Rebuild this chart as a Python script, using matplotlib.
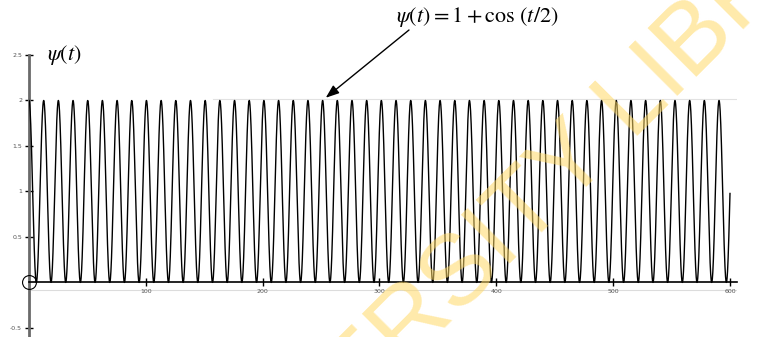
import numpy as np
import matplotlib
matplotlib.use("Agg")
import matplotlib.pyplot as plt
from matplotlib.lines import Line2D

# --- data (function stated on the chart: psi(t) = 1 + cos(t/2)) ---
t_range = [0, 600]
psi_offset = 1.0
psi_amplitude = 1.0
psi_frequency = 0.5
x_ticks = [100, 200, 300, 400, 500, 600]
x_tick_labels = ["100", "200", "300", "400", "500", "600"]
y_ticks = [-0.5, 0.5, 1, 1.5, 2, 2.5]
y_tick_labels = ["-0.5", "0.5", "1", "1.5", "2", "2.5"]

t = np.linspace(t_range[0], t_range[1], 6000)
psi = psi_offset + psi_amplitude * np.cos(psi_frequency * t)

plt.rcParams["mathtext.fontset"] = "stix"

W, H = 765, 337
fig = plt.figure(figsize=(W / 100, H / 100), dpi=100)
x0, x1 = 29, 737
y_top = 55
ymin, ymax = -0.6, 2.5
ax = fig.add_axes([x0 / W, 0, (x1 - x0) / W, 1 - y_top / H])
ax.set_xlim(0, 606)
ax.set_ylim(ymin, ymax)

# faint scan-like guide lines
ax.axhline(2.02, xmin=0.26, xmax=1.0, color="#e2e2e2", lw=0.8, zorder=0)
ax.axhline(-0.08, xmin=0.0, xmax=1.0, color="#dcdcdc", lw=0.8, zorder=0)
fig.add_artist(Line2D([270 / W, 630 / W], [1 - 57 / H, 1 - 57 / H],
                      color="#ececec", lw=0.8, zorder=0))

ax.plot(t, psi, color="black", lw=1.0, zorder=3)
ax.plot([0], [0], marker="o", ms=10, mfc="none", mec="black", mew=0.8,
        zorder=4, clip_on=False)

for s in ["top", "right"]:
    ax.spines[s].set_visible(False)
ax.spines["bottom"].set_position(("data", 0))
ax.spines["bottom"].set_color("black")
ax.spines["bottom"].set_linewidth(1.2)
ax.spines["left"].set_color("#6a6a6a")
ax.spines["left"].set_linewidth(2.0)

ax.set_xticks(x_ticks)
ax.set_xticklabels(x_tick_labels)
ax.set_yticks(y_ticks)
ax.set_yticklabels(y_tick_labels)
ax.tick_params(axis="both", direction="inout", length=6, width=1.0,
               color="black", labelsize=4.5, labelcolor="#555555", pad=2)

ax.text(0.025, 1.0, r"$\psi(t)$", transform=ax.transAxes, fontsize=16,
        ha="left", va="center", color="black")

fig.text(477 / W, 1 - 17 / H, r"$\psi(t) = 1 + \cos\,(t/2)$", fontsize=16,
         ha="center", va="center", color="black")
ax.annotate("", xy=(254, 2.03), xycoords="data",
            xytext=(409 / W, 1 - 30 / H), textcoords="figure fraction",
            arrowprops=dict(arrowstyle="-|>,head_length=0.8,head_width=0.3",
                            color="black", lw=1.0, shrinkA=0, shrinkB=0))

# watermark
fig.text(543 / W, 1 - 194 / H, "UNIVERSITY LIBRARY", fontsize=72,
         family="Liberation Sans", color="#FFD966", alpha=0.55,
         rotation=45, rotation_mode="anchor", ha="center", va="center",
         zorder=10)

fig.savefig("out.png", dpi=100)
